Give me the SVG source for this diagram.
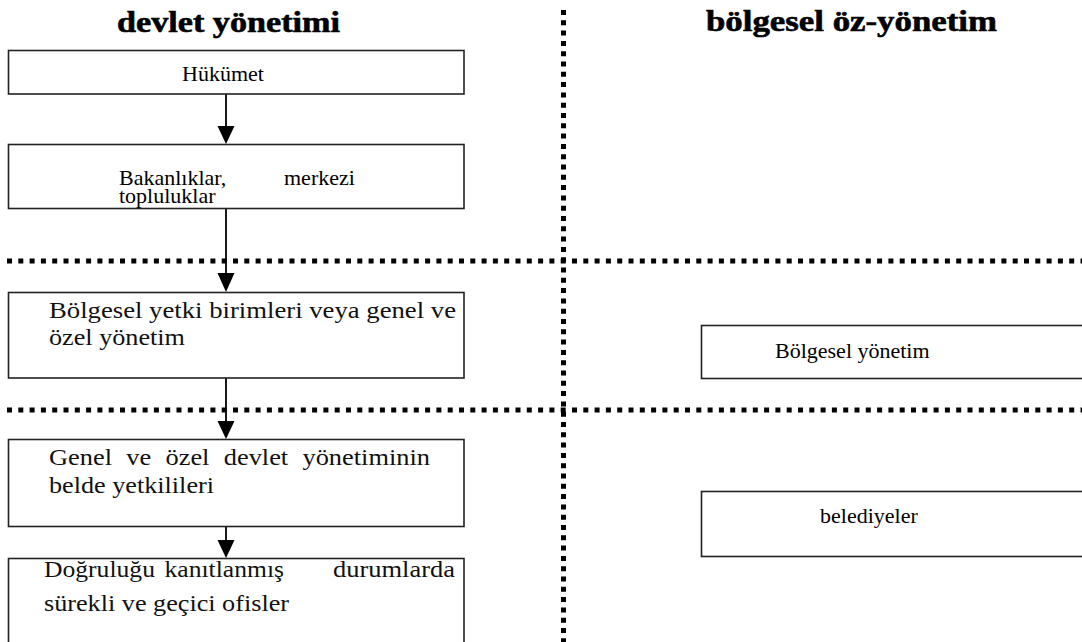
<svg xmlns="http://www.w3.org/2000/svg" width="1082" height="642" viewBox="0 0 1082 642">
  <style>
    .box { fill: #fff; stroke: #222; stroke-width: 1.6; }
    .title { font-family: "Liberation Serif", "Times New Roman", serif; font-weight: bold; font-size: 30px; fill: #000; stroke: #000; stroke-width: 0.6; }
    .tnr { font-family: "Liberation Serif", "Times New Roman", serif; font-size: 22px; fill: #000; }
    .bk { font-family: "Liberation Serif", "Times New Roman", serif; font-size: 24px; fill: #111; }
    .dots { stroke: #000; stroke-width: 5; fill: none; }
    .conn { stroke: #000; stroke-width: 1.8; fill: none; }
    .head { fill: #000; }
  </style>

  <rect width="1082" height="642" fill="#fff"/>

  <!-- column headings -->
  <text class="title" x="117" y="32" textLength="223" lengthAdjust="spacingAndGlyphs">devlet yönetimi</text>
  <text class="title" x="706" y="31" textLength="291" lengthAdjust="spacingAndGlyphs">bölgesel öz-yönetim</text>

  <!-- dotted dividers -->
  <g id="dividers">
    <line class="dots" x1="563.5" y1="10" x2="563.5" y2="642" stroke-dasharray="5 5.3"/>
    <line class="dots" x1="7" y1="261" x2="1082" y2="261" stroke-dasharray="5 6.3"/>
    <line class="dots" x1="7" y1="410" x2="1082" y2="410" stroke-dasharray="5 6.3"/>
  </g>

  <!-- connectors -->
  <g id="connectors">
    <line class="conn" x1="226" y1="93" x2="226" y2="128"/>
    <polygon class="head" points="217.5,126 234.5,126 226,144"/>
    <line class="conn" x1="226" y1="207" x2="226" y2="275"/>
    <polygon class="head" points="217.5,273 234.5,273 226,292"/>
    <line class="conn" x1="226" y1="377" x2="226" y2="423"/>
    <polygon class="head" points="217.5,421 234.5,421 226,439"/>
    <line class="conn" x1="226" y1="526" x2="226" y2="542"/>
    <polygon class="head" points="217.5,540 234.5,540 226,558"/>
  </g>

  <g id="hukumet">
    <rect class="box" x="8.5" y="50.5" width="455.5" height="43.5"/>
    <text class="tnr" x="182" y="81">Hükümet</text>
  </g>

  <g id="bakanliklar">
    <rect class="box" x="8.5" y="144.5" width="455.5" height="64"/>
    <text class="tnr" x="119" y="185">Bakanlıklar,</text>
    <text class="tnr" x="284" y="185">merkezi</text>
    <text class="tnr" x="119" y="203">topluluklar</text>
  </g>

  <g id="bolgesel-yetki">
    <rect class="box" x="8.5" y="292.5" width="455.5" height="85.5"/>
    <text class="bk" x="49" y="318" textLength="407" lengthAdjust="spacingAndGlyphs">Bölgesel yetki birimleri veya genel ve</text>
    <text class="bk" x="49" y="345" textLength="136" lengthAdjust="spacingAndGlyphs">özel yönetim</text>
  </g>

  <g id="belde-yetkilileri">
    <rect class="box" x="8.5" y="439.5" width="455.5" height="87"/>
    <text class="bk" x="49" y="465" word-spacing="7" textLength="381" lengthAdjust="spacingAndGlyphs">Genel ve özel devlet yönetiminin</text>
    <text class="bk" x="49" y="493" textLength="165" lengthAdjust="spacingAndGlyphs">belde yetkilileri</text>
  </g>

  <g id="ofisler">
    <rect class="box" x="8.5" y="558.5" width="455.5" height="110"/>
    <text class="bk" x="44" y="577" word-spacing="3" textLength="240" lengthAdjust="spacingAndGlyphs">Doğruluğu kanıtlanmış</text>
    <text class="bk" x="333" y="577" textLength="122" lengthAdjust="spacingAndGlyphs">durumlarda</text>
    <text class="bk" x="44" y="611" textLength="245" lengthAdjust="spacingAndGlyphs">sürekli ve geçici ofisler</text>
  </g>

  <g id="bolgesel-yonetim">
    <rect class="box" x="701.5" y="325.5" width="400" height="53"/>
    <text class="tnr" x="775" y="358" font-size="23">Bölgesel yönetim</text>
  </g>

  <g id="belediyeler">
    <rect class="box" x="701.5" y="491.5" width="400" height="65"/>
    <text class="tnr" x="820" y="523" font-size="23">belediyeler</text>
  </g>
</svg>
